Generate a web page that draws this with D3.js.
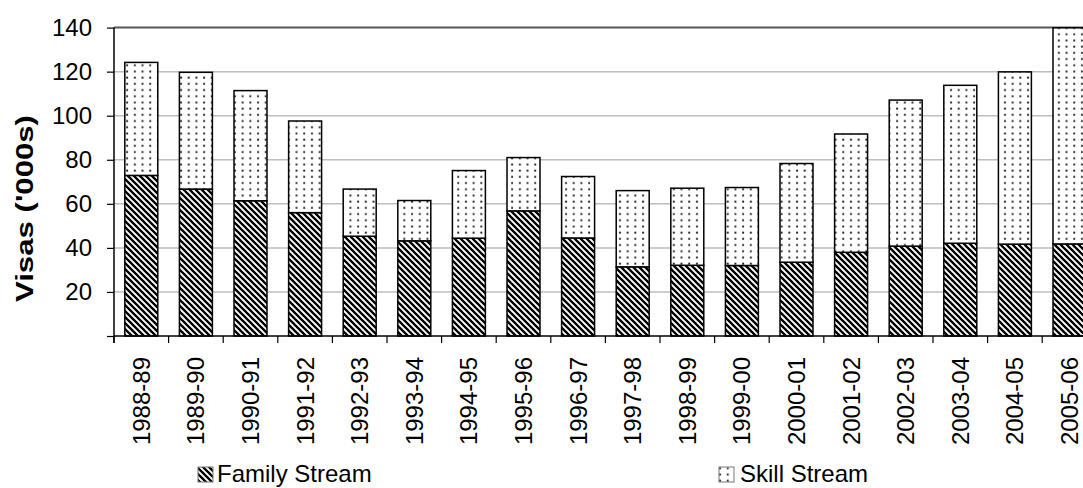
<!DOCTYPE html>
<html>
<head>
<meta charset="utf-8">
<script src="https://cdn.jsdelivr.net/npm/d3@7/dist/d3.min.js"></script>
<style>
  html, body { margin: 0; padding: 0; background: #fff; }
  svg { display: block; font-family: Arial, "Liberation Sans", sans-serif; }
</style>
</head>
<body>
<svg id="chart" width="1083" height="488"></svg>
<script>
const categories = ["1988-89","1989-90","1990-91","1991-92","1992-93","1993-94","1994-95","1995-96","1996-97","1997-98","1998-99","1999-00","2000-01","2001-02","2002-03","2003-04","2004-05","2005-06"];
const familyStream = [72.9, 66.7, 61.4, 56.0, 45.3, 43.2, 44.4, 56.8, 44.5, 31.4, 32.1, 32.0, 33.5, 38.0, 40.8, 42.1, 41.7, 41.8];
const skillStream  = [51.3, 53.0, 50.0, 41.6, 21.4, 18.3, 30.7, 24.2, 27.9, 34.6, 35.0, 35.4, 44.8, 53.7, 66.3, 71.7, 78.2, 98.1];
const yTicks = [0, 20, 40, 60, 80, 100, 120, 140];
const seriesNames = ["Family Stream", "Skill Stream"];
const yTitle = "Visas ('000s)";

const svg = d3.select("#chart");
const defs = svg.append("defs");

// Family: diagonal stripes (\\\)
const pf = defs.append("pattern").attr("id", "pFamily")
  .attr("patternUnits", "userSpaceOnUse").attr("width", 6).attr("height", 6);
pf.append("rect").attr("width", 6).attr("height", 6).attr("fill", "#fff");
pf.append("path").attr("d", "M-1,-1 L7,7 M-4,2 L2,8 M4,-2 L10,4")
  .attr("stroke", "#000").attr("stroke-width", 2.3);

// Skill: dots
const ps = defs.append("pattern").attr("id", "pSkill")
  .attr("patternUnits", "userSpaceOnUse").attr("width", 7.7).attr("height", 6.2);
ps.append("rect").attr("width", 7.7).attr("height", 6.2).attr("fill", "#fff");
ps.append("rect").attr("x", 3).attr("y", 2.3).attr("width", 1.9).attr("height", 1.9).attr("fill", "#222");

const x = d3.scaleBand().domain(categories).range([114, 114 + 18 * 54.6])
  .paddingInner(0.396).paddingOuter(0.198);
const y = d3.scaleLinear().domain([0, 140]).range([336, 27.6]);

// gridlines
svg.append("g").selectAll("line").data(yTicks.filter(d => d > 0)).join("line")
  .attr("x1", 114).attr("x2", 1083)
  .attr("y1", d => y(d)).attr("y2", d => y(d))
  .attr("stroke", d => d === 140 ? "#555" : "#bdbdbd")
  .attr("stroke-width", d => d === 140 ? 2 : 1.5);

// stacked bars
const stacked = categories.map((c, i) => ({ c, f: familyStream[i], s: skillStream[i] }));
const bars = svg.append("g");
bars.selectAll("rect.fam").data(stacked).join("rect").attr("class", "fam")
  .attr("x", d => x(d.c)).attr("width", x.bandwidth())
  .attr("y", d => y(d.f)).attr("height", d => y(0) - y(d.f))
  .attr("fill", "url(#pFamily)").attr("stroke", "#000").attr("stroke-width", 1.5);
bars.selectAll("rect.sk").data(stacked).join("rect").attr("class", "sk")
  .attr("x", d => x(d.c)).attr("width", x.bandwidth())
  .attr("y", d => y(d.f + d.s)).attr("height", d => y(d.f) - y(d.f + d.s))
  .attr("fill", "url(#pSkill)").attr("stroke", "#000").attr("stroke-width", 1.5);

// y axis
const yAxis = d3.axisLeft(y).tickValues(yTicks).tickSize(7).tickPadding(15)
  .tickFormat(d => d === 0 ? "" : d);
const gy = svg.append("g").attr("transform", "translate(114,0)").call(yAxis);
gy.select(".domain").attr("stroke", "#000").attr("stroke-width", 1.5).attr("d", "M0,27.6V343");
gy.selectAll(".tick line").attr("stroke", "#000").attr("stroke-width", 1.2);
gy.selectAll(".tick text").attr("font-size", "24px").attr("fill", "#000")
  .attr("font-family", "Arial, 'Liberation Sans', sans-serif");

// x axis
svg.append("line").attr("x1", 114).attr("x2", 1083).attr("y1", y(0)).attr("y2", y(0))
  .attr("stroke", "#000").attr("stroke-width", 1.5);
const step = x.step();
svg.append("g").selectAll("line").data(categories).join("line")
  .attr("x1", d => x(d) - (step - x.bandwidth()) / 2)
  .attr("x2", d => x(d) - (step - x.bandwidth()) / 2)
  .attr("y1", y(0)).attr("y2", y(0) + 7)
  .attr("stroke", "#000").attr("stroke-width", 1.2);
svg.append("g").selectAll("text").data(categories).join("text")
  .attr("transform", d => `translate(${x(d) + x.bandwidth() / 2},357) rotate(-90)`)
  .attr("text-anchor", "end").attr("dy", "0.35em")
  .attr("font-size", "24px").attr("fill", "#000").text(d => d);

// y title
svg.append("text")
  .attr("transform", "translate(33,208.5) rotate(-90)")
  .attr("text-anchor", "middle").attr("font-size", "24px").attr("font-weight", "bold")
  .attr("textLength", 187).attr("lengthAdjust", "spacingAndGlyphs")
  .text(yTitle);

// legend
const legend = svg.append("g");
const legendItems = [
  { name: seriesNames[0], fill: "url(#pFamily)", bx: 198, tx: 217 },
  { name: seriesNames[1], fill: "url(#pSkill)", bx: 719, tx: 740 }
];
legend.selectAll("rect").data(legendItems).join("rect")
  .attr("x", d => d.bx).attr("y", 467).attr("width", 15).attr("height", 15)
  .attr("fill", d => d.fill).attr("stroke", "#777").attr("stroke-width", 1);
legend.selectAll("text").data(legendItems).join("text")
  .attr("x", d => d.tx).attr("y", 482).attr("font-size", "24px").attr("fill", "#000")
  .text(d => d.name);
</script>
</body>
</html>
